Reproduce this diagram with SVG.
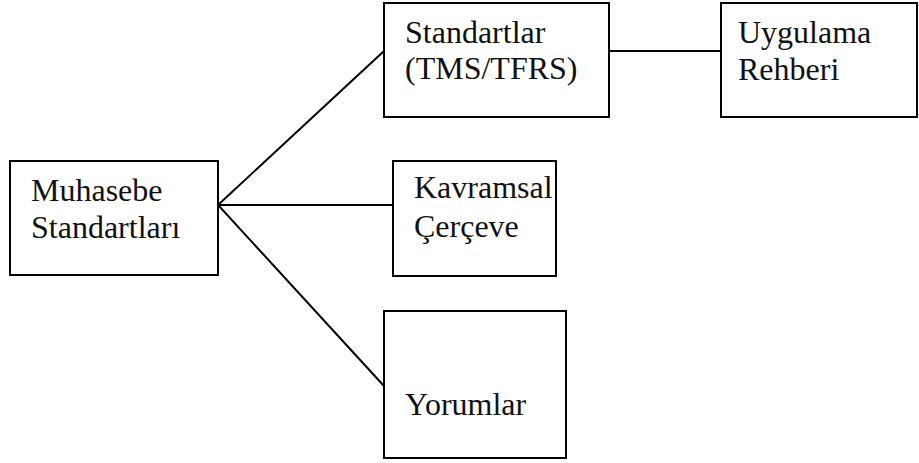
<svg xmlns="http://www.w3.org/2000/svg" width="919" height="463" viewBox="0 0 919 463">
<style>
.box{fill:#fff;stroke:#000;stroke-width:2}
.t{font-family:"Liberation Serif","Times New Roman",serif;font-size:32px;fill:#111}
.c{stroke:#000;stroke-width:2;fill:none}
</style>
<rect width="919" height="463" fill="#fff"/>
<g id="connectors">
<line class="c" x1="218" y1="205" x2="384" y2="51"/>
<line class="c" x1="218" y1="205" x2="393" y2="205"/>
<line class="c" x1="208" y1="194" x2="384" y2="386"/>
<line class="c" x1="609" y1="51" x2="721" y2="51"/>
</g>
<g id="muhasebe">
<rect class="box" x="10" y="161" width="208" height="114"/>
<text class="t" x="31" y="201">Muhasebe</text>
<text class="t" x="31" y="238">Standartları</text>
</g>
<g id="standartlar">
<rect class="box" x="384" y="3" width="225" height="114"/>
<text class="t" x="405" y="43">Standartlar</text>
<text class="t" x="405" y="79">(TMS/TFRS)</text>
</g>
<g id="uygulama">
<rect class="box" x="721" y="3" width="196" height="114"/>
<text class="t" x="738" y="43">Uygulama</text>
<text class="t" x="738" y="80">Rehberi</text>
</g>
<g id="kavramsal">
<rect class="box" x="393" y="161" width="163" height="115"/>
<text class="t" x="414" y="198">Kavramsal</text>
<text class="t" x="414" y="237">Çerçeve</text>
</g>
<g id="yorumlar">
<rect class="box" x="384" y="311" width="182" height="147"/>
<text class="t" x="405" y="415">Yorumlar</text>
</g>
</svg>
